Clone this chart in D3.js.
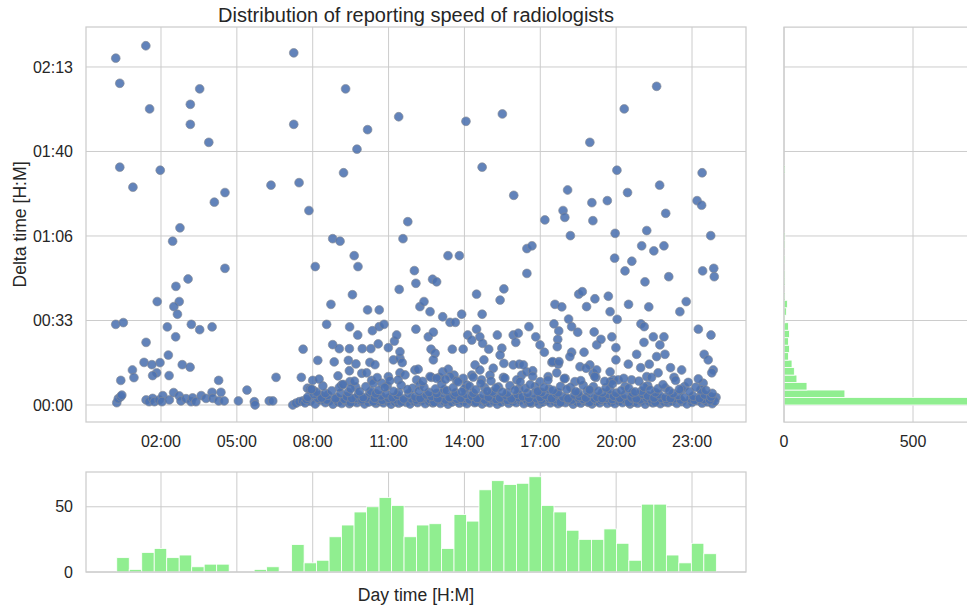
<!DOCTYPE html>
<html><head><meta charset="utf-8">
<script src="https://cdn.jsdelivr.net/npm/d3@7"></script>
<style>
body{margin:0;background:#fff}
svg{display:block}
text{font-family:"Liberation Sans",Arial,sans-serif;fill:#262626}
</style>
</head><body>
<svg id="chart" width="967" height="607"></svg>
<script>
// ---------------- DATA ----------------
const titleText = "Distribution of reporting speed of radiologists";
const xLabelText = "Day time [H:M]";
const yLabelText = "Delta time [H:M]";

const xTickHours = [2, 5, 8, 11, 14, 17, 20, 23];
const xTickLabels = ["02:00", "05:00", "08:00", "11:00", "14:00", "17:00", "20:00", "23:00"];
const yTickSeconds = [0, 2000, 4000, 6000, 8000];
const yTickLabels = ["00:00", "00:33", "01:06", "01:40", "02:13"];
const dayHistTicks = [0, 50];
const deltaHistTicks = [0, 500];

// scatter: [hour of day, delta minutes]
const sparsePoints = [
[0.21,136.8],[1.40,141.7],[0.37,126.9],[1.55,116.8],[3.53,124.7],[3.16,118.6],[3.16,110.7],[3.89,103.6],[7.25,138.9],[7.25,110.7],
[9.30,124.7],[10.17,108.6],[9.75,100.9],[9.22,91.6],[11.40,113.7],[0.37,93.8],[0.89,85.9],[1.97,92.6],[4.11,80.0],[4.53,83.8],
[6.35,86.7],[7.46,87.7],[7.85,76.7],[14.06,111.9],[15.50,114.8],[21.60,125.7],[20.32,116.8],[18.96,103.6],[14.70,93.8],[15.95,82.7],
[20.03,92.6],[23.40,91.6],[18.08,84.8],[21.72,86.7],[20.45,83.8],[19.04,79.8],[19.65,80.6],[23.20,80.6],[23.38,78.8],[17.90,76.7],
[21.96,75.6],[17.97,74.0],[11.76,72.3],[17.18,73.0],[19.08,72.7],[2.75,69.9],[2.46,64.6],[4.53,53.9],[3.07,49.7],[2.59,46.8],
[1.85,40.8],[2.72,40.8],[2.51,38.8],[2.65,35.8],[11.57,65.6],[8.79,65.6],[9.08,64.6],[9.64,58.9],[9.79,54.6],[8.10,54.6],
[9.57,43.5],[11.42,45.6],[8.72,39.7],[10.17,37.5],[10.63,37.5],[12.02,53.0],[12.08,48.0],[0.21,31.8],[0.51,32.5],[2.25,30.8],
[3.20,31.8],[3.53,29.7],[4.02,30.8],[2.58,26.9],[1.41,24.7],[2.29,19.7],[1.96,16.7],[1.33,16.8],[1.64,15.9],[1.83,12.7],
[1.67,11.6],[2.32,11.6],[2.84,15.9],[3.15,14.9],[0.87,13.8],[0.93,10.8],[0.41,9.7],[4.28,9.7],[6.55,10.9],[5.40,5.9],
[8.55,31.8],[9.46,30.8],[9.78,27.6],[8.79,23.8],[9.05,22.2],[9.45,22.2],[7.62,22.0],[10.36,29.3],[10.63,30.9],[10.82,31.8],
[9.96,22.2],[10.30,22.2],[10.59,24.1],[10.99,22.6],[11.23,25.2],[11.32,27.6],[8.20,17.6],[8.85,17.0],[9.41,17.6],[9.71,16.2],
[10.26,16.8],[10.46,15.9],[9.45,13.5],[9.94,12.5],[10.13,12.7],[7.55,10.9],[8.00,9.7],[10.33,9.7],[10.99,11.2],[7.79,6.6],
[8.02,5.9],[12.08,29.9],[12.24,38.8],[12.40,40.8],[12.64,36.8],[13.14,34.8],[13.43,32.6],[13.64,32.6],[13.89,35.8],[14.70,35.8],
[15.41,41.4],[12.57,26.9],[12.77,28.7],[12.68,22.0],[12.84,20.4],[12.77,17.8],[13.52,22.0],[13.95,22.0],[14.13,27.6],[14.29,25.6],
[14.48,29.9],[14.61,26.9],[14.72,24.3],[14.96,22.0],[15.30,27.6],[15.48,22.4],[15.93,27.6],[16.13,28.3],[16.03,24.7],[11.19,17.8],
[11.45,18.4],[11.54,16.7],[11.45,12.7],[12.04,13.8],[12.17,14.1],[12.70,10.9],[13.01,10.9],[13.14,13.1],[13.36,14.1],[13.59,11.8],
[13.95,10.5],[14.29,11.8],[14.42,15.8],[14.77,17.8],[14.61,13.8],[15.14,14.5],[15.41,19.7],[15.56,16.4],[15.93,15.8],[16.26,11.8],
[13.35,58.9],[13.80,58.9],[12.74,49.6],[12.90,48.6],[14.48,43.7],[15.56,45.8],[16.47,61.7],[16.67,62.8],[16.47,51.9],[18.19,66.8],
[19.96,67.7],[19.94,57.9],[20.35,52.9],[20.62,56.7],[21.21,68.8],[21.01,62.8],[21.49,60.8],[21.89,62.8],[22.08,50.6],[21.14,48.6],
[23.74,66.8],[23.42,52.9],[23.86,53.9],[23.88,50.6],[18.52,43.7],[18.66,44.7],[19.16,41.9],[18.83,38.8],[19.69,42.9],[19.76,36.8],
[20.49,39.7],[21.29,38.7],[20.04,33.8],[17.58,39.7],[17.85,38.7],[18.12,33.9],[18.24,30.9],[18.48,28.7],[17.54,32.0],[17.73,29.2],
[17.69,25.9],[17.67,23.0],[18.24,20.8],[18.17,19.1],[18.73,20.8],[19.13,28.8],[19.23,23.7],[19.40,25.9],[19.83,26.9],[19.99,22.6],
[19.99,17.8],[20.98,32.0],[21.11,30.9],[21.47,26.9],[21.89,26.9],[21.10,24.7],[21.73,23.7],[21.93,20.0],[21.60,19.1],[20.81,20.0],
[22.52,36.8],[22.77,40.8],[23.25,29.9],[23.75,27.6],[23.48,20.0],[23.64,17.8],[23.84,13.8],[23.78,12.7],[23.44,8.6],[23.38,4.6],
[23.95,3.0],[22.59,13.8],[22.15,14.7],[22.29,10.9],[22.59,5.9],[20.48,16.1],[20.97,14.7],[21.31,16.1],[21.66,12.7],[21.21,11.2],
[20.61,9.9],[11.45,21.0],[16.55,30.9],[16.82,26.9],[16.99,23.7],[17.16,20.8],[12.64,11.2],[13.43,11.2],[13.69,9.5],[17.46,16.8],
[17.71,16.1],[17.65,12.7],[16.17,16.1],[18.57,15.1],[18.96,15.8],[19.09,12.5],[19.76,13.1],[19.89,9.9],[17.49,17.1],[17.74,17.1],
[18.81,14.5],[19.23,13.8],[19.20,10.9],[19.78,9.2],[20.08,9.9],[17.98,10.5],[18.37,9.2],[17.31,11.2],[16.99,9.2],[16.46,13.1],
[16.70,13.5],[16.33,15.8],[9.15,7.9],[9.47,9.2],[10.73,8.6],[11.38,9.9],[12.11,9.9],[12.24,7.9],[12.90,10.5],[14.09,7.9],
[14.68,9.9],[15.01,11.8],[15.54,10.9],[16.07,9.9],[7.89,6.2],[8.29,3.9]
];

// dense cluster of fast reports near zero delay
const bandPoints = [
[0.25,0.9],[0.31,2.5],[0.41,3.3],[0.45,3.9],[1.41,2.0],[1.53,1.3],[1.67,2.6],[1.74,1.3],[1.93,2.0],[2.07,3.7],
[2.04,1.3],[2.33,2.0],[2.50,4.9],[2.72,3.6],[2.79,1.6],[2.99,2.5],[3.19,1.3],[3.25,2.8],[3.38,1.3],[3.59,3.7],
[3.78,2.6],[4.02,5.0],[4.05,2.6],[4.28,1.6],[4.37,5.0],[4.50,1.6],[5.06,1.6],[5.69,1.3],[5.72,0.0],[6.28,1.6],
[6.42,1.6],[7.21,0.0],[7.34,0.7],[7.47,1.3],[7.60,1.6],
[7.7,0.8],[7.9,1.5],[8.1,0.4],[8.3,1.9],[8.5,0.9],[8.65,1.6],[8.8,0.3],[9.0,1.2],[9.15,0.6],[9.3,1.8],
[9.45,0.5],[9.6,1.4],[9.75,0.9],[9.9,1.7],[10.05,0.4],[10.2,1.1],[10.35,1.9],[10.5,0.6],[10.65,1.3],[10.8,0.8],
[10.95,1.6],[11.1,0.3],[11.25,1.2],[11.4,0.7],[11.55,1.8],[11.7,1.0],[11.85,0.4],[12.0,1.5],[12.15,0.9],[12.3,1.7],
[12.45,0.5],[12.6,1.3],[12.75,0.8],[12.9,1.9],[13.05,0.6],[13.2,1.4],[13.35,0.3],[13.5,1.1],[13.65,1.7],[13.8,0.7],
[13.95,1.3],[14.1,0.5],[14.25,1.6],[14.4,0.9],[14.55,1.8],[14.7,0.4],[14.85,1.2],[15.0,0.8],[15.15,1.5],[15.3,0.3],
[15.45,1.0],[15.6,1.7],[15.75,0.6],[15.9,1.4],[16.05,0.9],[16.2,1.9],[16.35,0.5],[16.5,1.2],[16.65,0.7],[16.8,1.6],
[16.95,0.4],[17.1,1.1],[17.25,1.8],[17.4,0.8],[17.55,1.3],[17.7,0.5],[17.85,1.5],[18.0,0.9],[18.15,1.7],[18.3,0.3],
[18.45,1.2],[18.6,0.7],[18.75,1.6],[18.9,1.0],[19.05,0.4],[19.2,1.4],[19.35,0.8],[19.5,1.9],[19.65,0.6],[19.8,1.2],
[19.95,0.5],[20.1,1.5],[20.25,0.9],[20.4,1.7],[20.55,0.4],[20.7,1.1],[20.85,0.7],[21.0,1.6],[21.15,0.3],[21.3,1.3],
[21.45,0.8],[21.6,1.8],[21.75,0.5],[21.9,1.2],[22.05,0.9],[22.2,1.5],[22.4,0.6],[22.6,1.3],[22.8,0.4],[23.0,1.0],
[23.2,1.7],[23.4,0.7],[23.6,1.2],[23.8,0.5],[23.9,1.5],
[7.75,2.2],[8.2,2.7],[8.55,2.0],[8.95,2.9],[9.25,2.3],[9.5,1.0],[9.7,2.6],[9.95,2.1],[10.15,2.8],[10.4,1.3],
[10.6,2.4],[10.75,1.9],[11.0,2.7],[11.3,2.1],[11.5,1.2],[11.9,2.5],[12.1,2.0],[12.35,2.8],[12.65,2.2],[12.8,1.1],
[13.0,2.6],[13.25,2.0],[13.45,2.9],[13.7,2.3],[14.0,2.7],[14.2,2.1],[14.45,1.1],[14.6,2.5],[14.8,2.0],[15.05,2.8],
[15.25,2.2],[15.5,2.6],[15.7,1.9],[15.95,2.4],[16.15,2.9],[16.45,2.1],[16.6,1.0],[16.85,2.5],[17.05,2.0],[17.35,2.7],
[17.6,2.2],[17.8,1.0],[18.05,2.6],[18.25,2.0],[18.5,2.8],[18.7,2.3],[18.95,1.1],[19.15,2.5],[19.4,2.0],[19.6,2.7],
[19.85,2.2],[20.05,2.9],[20.3,2.4],[20.5,1.0],[20.65,2.6],[20.95,2.1],[21.2,2.8],[21.4,2.0],[21.55,1.1],[21.8,2.6],
[22.0,2.1],[22.3,2.5],[22.55,2.0],[22.95,2.4],[23.1,1.9],[23.45,2.2],[23.7,2.0],
[7.8,3.1],[8.05,4.2],[8.35,2.8],[8.6,3.9],[8.9,2.5],[9.1,4.6],[9.35,3.3],[9.55,2.6],[9.8,4.1],[10.0,3.0],
[10.25,4.8],[10.45,2.7],[10.7,3.6],[10.9,4.4],[11.15,2.9],[11.35,3.8],[11.6,2.4],[11.8,4.5],[12.05,3.2],[12.25,2.6],
[12.5,4.0],[12.7,3.4],[12.95,2.5],[13.15,4.7],[13.4,3.0],[13.6,3.9],[13.85,2.7],[14.05,4.3],[14.3,3.5],[14.5,2.6],
[14.75,4.1],[14.95,3.1],[15.2,4.6],[15.4,2.8],[15.65,3.7],[15.85,2.5],[16.1,4.2],[16.3,3.3],[16.55,2.7],[16.75,4.5],
[17.0,3.0],[17.2,3.9],[17.45,2.6],[17.65,4.4],[17.9,3.2],[18.1,2.5],[18.35,4.0],[18.55,3.4],[18.8,2.8],[19.0,4.6],
[19.25,3.1],[19.45,2.6],[19.7,4.2],[19.9,3.5],[20.15,2.7],[20.35,4.0],[20.6,3.2],[20.8,2.5],[21.05,4.3],[21.25,3.6],
[21.5,2.8],[21.7,4.1],[21.95,3.0],[22.15,2.6],[22.45,3.8],[22.7,2.9],[23.05,3.5],[23.3,2.6],[23.5,4.0],[23.75,3.2],
[8.15,5.1],[8.5,4.6],[9.05,6.9],[9.4,5.0],[9.7,7.1],[10.3,5.5],[10.5,4.5],[10.95,7.5],[11.4,4.9],[11.95,6.6],
[12.6,5.0],[12.9,4.6],[13.2,6.0],[13.65,4.8],[14.0,6.4],[14.35,4.7],[14.8,6.9],[15.1,5.2],[15.35,7.1],[15.7,4.8],
[16.15,6.3],[16.5,4.7],[16.8,7.2],[17.05,5.0],[17.35,6.3],[17.7,4.9],[18.2,7.0],[18.5,4.8],[18.85,5.6],[19.1,7.2],
[19.45,4.9],[19.75,6.1],[20.0,4.7],[20.35,7.3],[20.65,4.8],[21.0,5.5],[21.25,7.6],[21.55,4.9],[21.95,6.7],[22.25,4.5],
[22.7,7.2],[23.35,6.0],[23.8,4.6],
[7.95,6.2],[8.4,7.5],[8.75,5.6],[9.2,8.1],[9.5,6.4],[9.85,5.3],[10.1,7.2],[10.4,8.6],[10.6,5.8],[10.85,6.9],
[11.2,5.4],[11.5,7.8],[11.75,6.1],[12.2,5.5],[12.4,7.0],[12.85,6.3],[13.1,8.2],[13.3,5.7],[13.55,6.8],[13.9,5.2],
[14.2,7.4],[14.45,6.0],[14.65,8.5],[14.9,5.5],[15.25,6.7],[15.5,5.1],[15.8,7.6],[16.0,5.9],[16.4,6.5],[16.6,8.0],
[16.9,5.4],[17.15,6.9],[17.5,5.8],[17.8,7.3],[18.05,6.2],[18.4,5.3],[18.7,7.7],[18.95,6.0],[19.3,5.5],[19.6,6.8],
[19.85,8.3],[20.2,5.7],[20.5,6.6],[20.75,5.2],[21.1,7.1],[21.35,5.9],[21.65,6.4],[21.85,8.0],[22.1,5.6],[22.5,6.2],
[22.9,5.3],[23.15,7.0],[23.55,5.8],
[8.25,10.2],[9.0,11.5],[9.65,9.4],[10.55,10.8],[11.05,9.6],[11.65,11.9],[12.35,9.3],[13.25,10.1],[13.75,9.1],[14.35,11.0],
[15.05,9.5],[15.6,10.6],[16.2,9.2],[16.7,11.3],[17.3,9.8],[17.95,10.4],[18.6,9.6],[19.15,11.2],[19.55,9.3],[20.3,10.5],
[20.9,9.4],[21.4,10.9],[22.35,9.7],[22.85,8.9],[23.25,10.3]
];

// marginal histogram over time of day (48 bins)
const dayBinStartHour = 0.25;
const dayBinWidthHour = 0.494;
const dayCounts = [11,2,15,18,11,13,4,6,6,0,0,2,4,0,21,7,9,27,36,46,50,57,51,27,36,37,18,44,39,63,70,67,68,73,51,46,32,25,25,33,22,9,52,52,13,7,22,14];

// marginal histogram over delta time (bins of 177 s from 0)
const deltaBinWidthSec = 177;
const deltaCounts = [750,236,89,50,40,31,17,21,17,21,17,4,9,13,4,0,4,4,0,4,0,4,4,0,0,0,0,0,0,0,0,4];

// ---------------- LAYOUT ----------------
const main = {l:86, r:746, t:27, b:422};
const bot  = {l:86, r:746, t:472, b:572};
const side = {l:784, r:967, t:27, b:422};
const gridColor = "#cccccc";

const svg = d3.select("#chart");
const defs = svg.append("defs");
function clip(id, p){
  defs.append("clipPath").attr("id", id).append("rect")
    .attr("x", p.l).attr("y", p.t).attr("width", p.r - p.l).attr("height", p.b - p.t);
}
clip("cMain", main); clip("cBot", bot); clip("cSide", side);

const x = d3.scaleLinear().domain([-0.966, 25.135]).range([main.l, main.r]);
const y = d3.scaleLinear().domain([-6.71, 149.1]).range([main.b, main.t]); // minutes
const yBot = d3.scaleLinear().domain([0, d3.max(dayCounts) * 1.05]).range([bot.b, bot.t]);
const xSide = d3.scaleLinear().domain([0, 709.3]).range([side.l, side.r]);

// ----- main scatter -----
const gMain = svg.append("g");
gMain.append("g").attr("clip-path","url(#cMain)").selectAll("line.vx").data(xTickHours).join("line")
  .attr("x1", d => x(d)).attr("x2", d => x(d)).attr("y1", main.t).attr("y2", main.b)
  .attr("stroke", gridColor).attr("stroke-width", 1);
gMain.append("g").selectAll("line.hy").data(yTickSeconds).join("line")
  .attr("x1", main.l).attr("x2", main.r).attr("y1", d => y(d/60)).attr("y2", d => y(d/60))
  .attr("stroke", gridColor).attr("stroke-width", 1);

const allPoints = sparsePoints.concat(bandPoints);
gMain.append("g").attr("clip-path","url(#cMain)").selectAll("circle").data(allPoints).join("circle")
  .attr("cx", d => x(d[0])).attr("cy", d => y(d[1])).attr("r", 4.4)
  .attr("fill", "#4C72B0").attr("fill-opacity", 0.88)
  .attr("stroke", "#868b94").attr("stroke-opacity", 0.8).attr("stroke-width", 0.8);

gMain.append("rect").attr("x", main.l).attr("y", main.t).attr("width", main.r-main.l).attr("height", main.b-main.t)
  .attr("fill","none").attr("stroke", gridColor).attr("stroke-width", 1.25);

gMain.selectAll("text.xt").data(xTickHours).join("text")
  .attr("x", d => x(d)).attr("y", 447).attr("text-anchor","middle").attr("font-size", 16)
  .text((d,i) => xTickLabels[i]);
gMain.selectAll("text.yt").data(yTickSeconds).join("text")
  .attr("x", main.l - 13).attr("y", d => y(d/60)).attr("dy","0.35em").attr("text-anchor","end").attr("font-size", 16)
  .text((d,i) => yTickLabels[i]);

svg.append("text").attr("x", (main.l+main.r)/2).attr("y", 22).attr("text-anchor","middle")
  .attr("font-size", 20).text(titleText);
svg.append("text").attr("transform", `translate(26,${(main.t+main.b)/2}) rotate(-90)`)
  .attr("text-anchor","middle").attr("font-size", 17.6).text(yLabelText);

// ----- bottom histogram -----
const gBot = svg.append("g");
gBot.selectAll("line.vx").data(xTickHours).join("line")
  .attr("x1", d => x(d)).attr("x2", d => x(d)).attr("y1", bot.t).attr("y2", bot.b)
  .attr("stroke", gridColor).attr("stroke-width", 1);
gBot.selectAll("line.hy").data(dayHistTicks).join("line")
  .attr("x1", bot.l).attr("x2", bot.r).attr("y1", d => yBot(d)).attr("y2", d => yBot(d))
  .attr("stroke", gridColor).attr("stroke-width", 1);
gBot.append("g").attr("clip-path","url(#cBot)").selectAll("rect").data(dayCounts).join("rect")
  .attr("x", (d,i) => x(dayBinStartHour + i*dayBinWidthHour))
  .attr("width", (d,i) => x(dayBinStartHour + (i+1)*dayBinWidthHour) - x(dayBinStartHour + i*dayBinWidthHour))
  .attr("y", d => yBot(d)).attr("height", d => yBot(0) - yBot(d))
  .attr("fill", "#90ee90").attr("stroke", "#ffffff").attr("stroke-width", 0.8);
gBot.append("rect").attr("x", bot.l).attr("y", bot.t).attr("width", bot.r-bot.l).attr("height", bot.b-bot.t)
  .attr("fill","none").attr("stroke", gridColor).attr("stroke-width", 1.25);
gBot.selectAll("text.yt").data(dayHistTicks).join("text")
  .attr("x", bot.l - 13).attr("y", d => yBot(d)).attr("dy","0.35em").attr("text-anchor","end").attr("font-size", 16)
  .text(d => d);
svg.append("text").attr("x", (bot.l+bot.r)/2).attr("y", 601).attr("text-anchor","middle")
  .attr("font-size", 17.6).text(xLabelText);

// ----- side histogram -----
const gSide = svg.append("g");
gSide.selectAll("line.vx").data(deltaHistTicks).join("line")
  .attr("x1", d => xSide(d)).attr("x2", d => xSide(d)).attr("y1", side.t).attr("y2", side.b)
  .attr("stroke", gridColor).attr("stroke-width", 1);
gSide.selectAll("line.hy").data(yTickSeconds).join("line")
  .attr("x1", side.l).attr("x2", side.r).attr("y1", d => y(d/60)).attr("y2", d => y(d/60))
  .attr("stroke", gridColor).attr("stroke-width", 1);
gSide.append("g").attr("clip-path","url(#cSide)").selectAll("rect").data(deltaCounts).join("rect")
  .attr("x", xSide(0))
  .attr("y", (d,i) => y((i+1)*deltaBinWidthSec/60))
  .attr("height", (d,i) => y(i*deltaBinWidthSec/60) - y((i+1)*deltaBinWidthSec/60))
  .attr("width", d => xSide(d) - xSide(0))
  .attr("fill", "#90ee90").attr("stroke", "#ffffff").attr("stroke-width", 0.8);
gSide.append("path")
  .attr("d", `M${side.r},${side.t}H${side.l}V${side.b}H${side.r}`)
  .attr("fill","none").attr("stroke", gridColor).attr("stroke-width", 1.25);
gSide.selectAll("text.xt").data(deltaHistTicks).join("text")
  .attr("x", d => xSide(d)).attr("y", 447).attr("text-anchor","middle").attr("font-size", 16)
  .text(d => d);
</script>
</body></html>
